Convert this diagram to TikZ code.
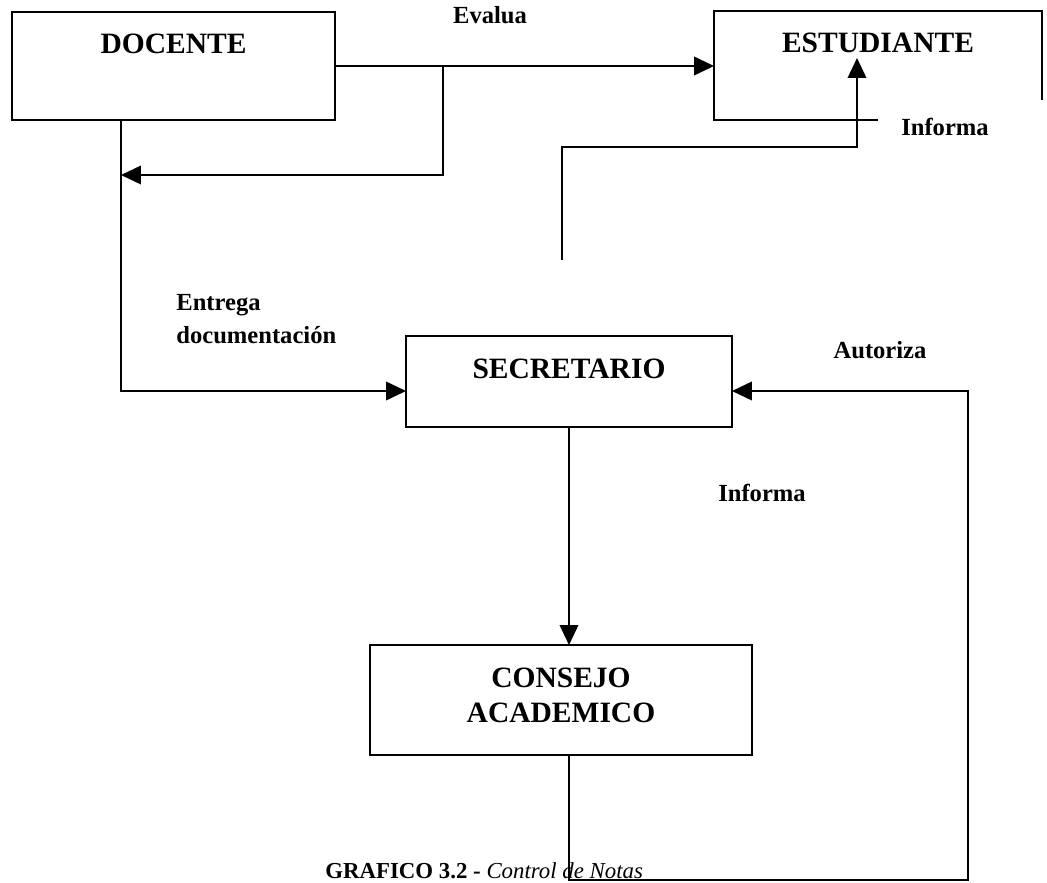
\documentclass[tikz,border=0pt]{standalone}
\usepackage{fontspec}
\setmainfont{Liberation Serif}
\usetikzlibrary{arrows.meta}
\begin{document}
\begin{tikzpicture}[x=0.02cm,y=-0.02cm,
  edge/.style={line width=1.25pt},
  arr/.style={-{Triangle[length=0.4cm,width=0.37cm]}},
  box/.style={draw,line width=1.25pt,inner sep=0pt,outer sep=0pt,
    font=\bfseries\fontsize{16.8}{20}\selectfont},
  lbl/.style={font=\bfseries\fontsize{14}{18.8}\selectfont}]
\useasboundingbox (0,0) rectangle (1047,882);

% caption, under the bottom return line
\node[anchor=base west,inner sep=0pt] (cap) at (325,878)
  {\fontsize{13}{15}\selectfont\bfseries GRAFICO 3.2 - \mdseries\itshape Control de Notas};

% actors
\node[box,minimum width=6.46cm,text height=0.82cm,text depth=1.34cm] (doc) at (173.5,66) {DOCENTE};
\node[box,draw=none,minimum width=6.56cm,text height=0.82cm,text depth=1.36cm] (est) at (878,65.5) {ESTUDIANTE};
\node[box,minimum width=6.52cm,text height=0.84cm,text depth=0.98cm] (sec) at (569,381.5) {SECRETARIO};
\node[box,minimum width=7.64cm,text height=0.84cm,text depth=1.36cm] (con) at (561,700)
  {\begin{tabular}[t]{@{}c@{}}CONSEJO\\ACADEMICO\end{tabular}};

% open outline of the student box
\draw[edge] ([xshift=3.28cm]est.south west) -- (est.south west) -- (est.north west)
  -- (est.north east) -- ([yshift=0.4cm]est.south east);

% connection points
\coordinate (split) at (443,66);
\coordinate (back) at (121,175);
\coordinate (dl) at (121,120);
\coordinate (inf0) at (562,260);
\coordinate (esttip) at (857,58);
\coordinate (corner) at (968,880);

% flows
\draw[edge,arr] (doc.east) -- (doc.east -| est.west);
\draw[edge,arr] (split) |- (back);
\draw[edge,arr] (dl) |- ([yshift=-0.19cm]sec.west);
\draw[edge,arr] (inf0) -- (562,147) -| (esttip);
\draw[edge,arr] (sec.south) -- (sec.south |- con.north);
\draw[edge,arr] (con.south -| sec.south) |- (corner) |- ([yshift=-0.19cm]sec.east);

% labels
\node[lbl] (evalua) at (490,15) {Evalua};
\node[lbl] (inf1) at (945,127) {Informa};
\node[lbl,align=left,anchor=west,inner sep=0pt] (entrega) at (176,319.5) {Entrega\\documentación};
\node[lbl] (autoriza) at (880,350) {Autoriza};
\node[lbl] (inf2) at (762,493) {Informa};
\end{tikzpicture}
\end{document}
